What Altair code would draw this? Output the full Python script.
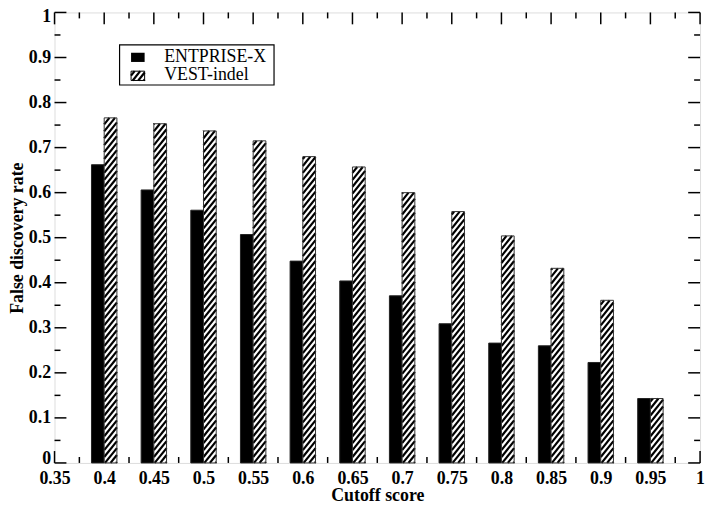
import altair as alt
import pandas as pd

# ---------------- data ----------------
cutoffs = [0.4, 0.45, 0.5, 0.55, 0.6, 0.65, 0.7, 0.75, 0.8, 0.85, 0.9, 0.95]
entprise_x = [0.662, 0.606, 0.561, 0.507, 0.448, 0.404, 0.371, 0.309, 0.266, 0.260, 0.223, 0.143]
vest_indel = [0.766, 0.753, 0.737, 0.715, 0.680, 0.657, 0.600, 0.558, 0.504, 0.432, 0.361, 0.143]
series_names = ["ENTPRISE-X", "VEST-indel"]

x_major = [0.35, 0.4, 0.45, 0.5, 0.55, 0.6, 0.65, 0.7, 0.75, 0.8, 0.85, 0.9, 0.95, 1.0]
x_minor = [0.375, 0.425, 0.475, 0.525, 0.575, 0.625, 0.675, 0.725, 0.775, 0.825, 0.875, 0.925, 0.975]
y_major = [0, 0.1, 0.2, 0.3, 0.4, 0.5, 0.6, 0.7, 0.8, 0.9, 1.0]
y_minor = [0.05, 0.15, 0.25, 0.35, 0.45, 0.55, 0.65, 0.75, 0.85, 0.95]

# ---------------- layout / style ----------------
W, H = 652, 455
XMIN, XMAX = 0.35, 1.0
BW = 0.0128          # bar width in data units
FONT = "Liberation Serif"
MAJ, MIN = 12, 6     # tick lengths (px)


def px_x(v):
    return (v - XMIN) / (XMAX - XMIN) * W


def px_y(v):
    return H - v * H


def dx(p):
    return XMIN + p / W * (XMAX - XMIN)


def dy(p):
    return (H - p) / H


def hatch(x0, x1, yb, yt, k=1.25, step=7.0):
    """diagonal '/' stripes inside a pixel rectangle, returned in data units"""
    w = x1 - x0
    h = yb - yt
    segs = []
    v0 = -k * w + 1.0
    while v0 < h:
        us = max(0.0, -v0 / k)
        ue = min(w, (h - v0) / k)
        if ue > us:
            segs.append({
                "x": dx(x0 + us), "y": dy(yb - (v0 + k * us)),
                "x2": dx(x0 + ue), "y2": dy(yb - (v0 + k * ue)),
            })
        v0 += step
    return segs


xscale = alt.Scale(domain=[XMIN, XMAX], nice=False, zero=False)
yscale = alt.Scale(domain=[0, 1], nice=False, zero=False)

common_axis = dict(
    ticks=False, tickSize=0, domain=False, grid=False,
    labelFont=FONT, labelFontWeight="bold", labelFontSize=18, labelColor="black",
    titleFont=FONT, titleFontWeight="bold", titleFontSize=18, titleColor="black",
    labelOverlap=False, labelBound=False,
)
xaxis = alt.Axis(title="Cutoff score", values=x_major, format="~g",
                 labelFlush=False, labelPadding=7, titlePadding=-1, **common_axis)
yaxis = alt.Axis(title="False discovery rate", values=y_major, format="~g",
                 labelFlush=False, labelPadding=4, titlePadding=2,
                 labelBaseline="middle",
                 labelOffset={"condition": [{"test": "datum.value == 1", "value": 4},
                                            {"test": "datum.value == 0", "value": -4}],
                              "value": 0},
                 **common_axis)


def X(f):
    return alt.X(f, type="quantitative", scale=xscale, axis=xaxis)


def Y(f):
    return alt.Y(f, type="quantitative", scale=yscale, axis=yaxis)


# ---------------- tables ----------------
ent_df = pd.DataFrame({"x0": [c - BW for c in cutoffs], "x1": cutoffs, "v": entprise_x,
                       "s": series_names[0]})
vest_df = pd.DataFrame({"x0": cutoffs, "x1": [c + BW for c in cutoffs], "v": vest_indel,
                        "s": series_names[1]})

segs = []
for c, v in zip(cutoffs, vest_indel):
    segs += hatch(px_x(c), px_x(c + BW), px_y(0), px_y(v))
# legend hatched swatch (pixel box inside plot)
LX0, LX1 = 77.3, 91.0
segs += hatch(LX0, LX1, 68.7, 59.3)
seg_df = pd.DataFrame(segs)

xmaj_df = pd.DataFrame({"v": x_major})
xmin_df = pd.DataFrame({"v": x_minor})
ymaj_df = pd.DataFrame({"v": y_major})
ymin_df = pd.DataFrame({"v": y_minor})
one = pd.DataFrame({"a": [0]})

TICK = dict(color="black", strokeWidth=1.5)

layers = []
# ticks (inside, all four sides)
for df, L in ((xmaj_df, MAJ), (xmin_df, MIN)):
    layers.append(alt.Chart(df).mark_rule(**TICK).encode(
        x=X("v"), y=alt.value(H), y2=alt.value(H - L)))
    layers.append(alt.Chart(df).mark_rule(**TICK).encode(
        x=X("v"), y=alt.value(0), y2=alt.value(L)))
for df, L in ((ymaj_df, MAJ), (ymin_df, MIN)):
    layers.append(alt.Chart(df).mark_rule(**TICK).encode(
        y=Y("v"), x=alt.value(0), x2=alt.value(L)))
    layers.append(alt.Chart(df).mark_rule(**TICK).encode(
        y=Y("v"), x=alt.value(W - L), x2=alt.value(W)))

# bars
layers.append(alt.Chart(ent_df).mark_rect(fill="black", stroke="#222222", strokeWidth=1).encode(
    x=X("x0"), x2="x1", y=Y("v"), y2=alt.datum(0)))
layers.append(alt.Chart(vest_df).mark_rect(fill="white", stroke=None).encode(
    x=X("x0"), x2="x1", y=Y("v"), y2=alt.datum(0)))

# legend box and swatches
layers.append(alt.Chart(one).mark_rect(fill="white", stroke="black", strokeWidth=1.2).encode(
    x=alt.value(65.7), x2=alt.value(221.7), y=alt.value(32.7), y2=alt.value(73.3)))
layers.append(alt.Chart(one).mark_rect(fill="black").encode(
    x=alt.value(LX0), x2=alt.value(LX1), y=alt.value(40.7), y2=alt.value(50.0)))
layers.append(alt.Chart(one).mark_rect(fill="white").encode(
    x=alt.value(LX0), x2=alt.value(LX1), y=alt.value(59.3), y2=alt.value(68.7)))

# hatch stripes
layers.append(alt.Chart(seg_df).mark_rule(color="black", strokeWidth=2.2, strokeCap="butt").encode(
    x=X("x"), y=Y("y"), x2="x2", y2="y2"))

# outlines of hatched bars and swatch
layers.append(alt.Chart(vest_df).mark_rect(fillOpacity=0, stroke="#333333", strokeWidth=1).encode(
    x=X("x0"), x2="x1", y=Y("v"), y2=alt.datum(0)))
layers.append(alt.Chart(one).mark_rect(fillOpacity=0, stroke="black", strokeWidth=1).encode(
    x=alt.value(LX0), x2=alt.value(LX1), y=alt.value(59.3), y2=alt.value(68.7)))

# legend labels
leg1 = pd.DataFrame({"t": [series_names[0]]})
leg2 = pd.DataFrame({"t": [series_names[1]]})
layers.append(alt.Chart(leg1).mark_text(align="left", baseline="alphabetic", font=FONT,
                                        fontSize=18, color="black").encode(
    text="t:N", x=alt.value(110.7), y=alt.value(50.0)))
layers.append(alt.Chart(leg2).mark_text(align="left", baseline="alphabetic", font=FONT,
                                        fontSize=18, color="black").encode(
    text="t:N", x=alt.value(110.7), y=alt.value(68.7)))

chart = alt.layer(*layers).properties(
    width=W, height=H,
    autosize=alt.AutoSizeParams(type="none"),
    padding={"left": 47, "top": 2, "right": 6, "bottom": 41},
).configure_view(stroke="black", strokeWidth=2).configure(background="white")

chart.save("out.html", embed_options={"renderer": "svg", "actions": False})
